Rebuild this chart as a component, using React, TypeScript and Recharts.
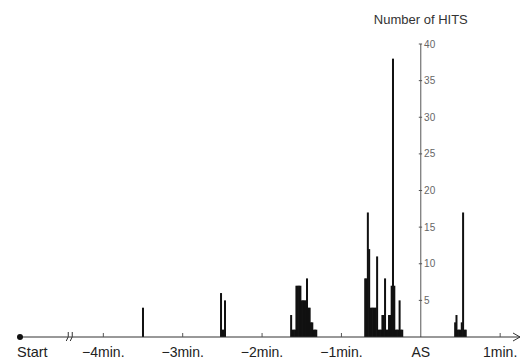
import {
  BarChart,
  Bar,
  XAxis,
  YAxis,
  ReferenceLine,
  ReferenceDot,
} from "recharts";

// seconds relative to AS (0), one bin per second
const seconds = [
  -210,
  -151, -150, -149, -148,
  -98, -97, -96, -95, -94, -93, -92, -91, -90, -89, -88, -87, -86, -85, -84, -83, -82, -81, -80, -79,
  -42, -41, -40, -39, -38, -37, -36, -35, -34, -33, -32, -31, -30, -29, -28, -27, -26, -25, -24, -23,
  -22, -21, -20, -19, -18, -17, -16, -15, -14,
  26, 27, 28, 29, 30, 31, 32, 33, 34,
];
const hits = [
  4,
  6, 1, 1, 5,
  3, 1, 1, 1, 7, 7, 7, 7, 5, 5, 5, 5, 8, 4, 4, 2, 2, 1, 1, 1,
  8, 8, 17, 12, 4, 4, 4, 4, 4, 11, 1, 1, 1, 3, 3, 8, 1, 1, 3, 3,
  7, 38, 7, 1, 1, 1, 5, 1, 1,
  2, 3, 1, 1, 1, 2, 17, 1, 1,
];

const xTicks = [-303, -240, -180, -120, -60, 0, 60];
const xTickLabels = ["Start", "−4min.", "−3min.", "−2min.", "−1min.", "AS", "1min."];
const yTicks = [5, 10, 15, 20, 25, 30, 35, 40];

const data = seconds.map((t, i) => ({ t, hits: hits[i] }));

function TimeTick(props: any) {
  const { x, y, payload } = props;
  const idx = xTicks.indexOf(payload.value);
  const label = xTickLabels[idx] ?? "";
  if (idx === 0) {
    return (
      <text x={x - 3} y={y + 20} textAnchor="start" fontSize={14.5} fill="#222">
        {label}
      </text>
    );
  }
  return (
    <g>
      {payload.value !== 0 && (
        <line x1={x} x2={x} y1={y - 4} y2={y} stroke="#555" />
      )}
      <text x={x} y={y + 20} textAnchor="middle" fontSize={14} fill="#222">
        {label}
      </text>
    </g>
  );
}

// fixed-width slab so neighbouring 1 s bins merge into solid blocks
function HitBar(p: any) {
  if (!p.height) return null;
  return (
    <rect x={p.x + p.width / 2 - 1} y={p.y} width={2} height={p.height} fill="#111" />
  );
}

export default function App() {
  return (
    <div
      style={{
        position: "absolute",
        left: 0,
        top: 0,
        width: 525,
        height: 363,
        background: "#fff",
        fontFamily: "'Liberation Sans', Arial, sans-serif",
      }}
    >
      <BarChart
        width={525}
        height={363}
        data={data}
        margin={{ top: 44, right: 5, left: 20, bottom: 0 }}
      >
        <XAxis
          dataKey="t"
          type="number"
          domain={[-303, 75]}
          ticks={xTicks}
          interval={0}
          height={26}
          tickSize={0}
          tickMargin={0}
          tickLine={false}
          tick={<TimeTick />}
          axisLine={{ stroke: "#333" }}
          allowDataOverflow
        />
        <YAxis hide domain={[0, 40]} />
        <ReferenceLine
          x={0}
          stroke="#555"
          label={{
            value: "Number of HITS",
            position: "top",
            offset: 20,
            fontSize: 13,
            fill: "#333",
          }}
        />
        {yTicks.map((v) => (
          <ReferenceLine
            key={v}
            segment={[
              { x: -1.5, y: v },
              { x: 1, y: v },
            ]}
            stroke="#555"
            label={{
              value: v,
              position: "right",
              offset: 2,
              fontSize: 10,
              fill: "#666",
            }}
          />
        ))}
        <Bar
          dataKey="hits"
          fill="#111"
          shape={<HitBar />}
          isAnimationActive={false}
        />
        <ReferenceDot x={-303} y={0} r={3} fill="#111" stroke="none" />
        <ReferenceDot
          x={-265}
          y={0}
          shape={(p: any) => (
            <g stroke="#333" fill="none" strokeWidth={1}>
              <path d={`M${p.cx - 4},${p.cy + 4} Q${p.cx - 1},${p.cy} ${p.cx - 2},${p.cy - 5}`} />
              <path d={`M${p.cx},${p.cy + 4} Q${p.cx + 3},${p.cy} ${p.cx + 2},${p.cy - 5}`} />
            </g>
          )}
        />
        <ReferenceDot
          x={75}
          y={0}
          shape={(p: any) => (
            <path
              d={`M${p.cx - 7},${p.cy - 4} L${p.cx},${p.cy} L${p.cx - 7},${p.cy + 4}`}
              stroke="#333"
              fill="none"
            />
          )}
        />
      </BarChart>
    </div>
  );
}
